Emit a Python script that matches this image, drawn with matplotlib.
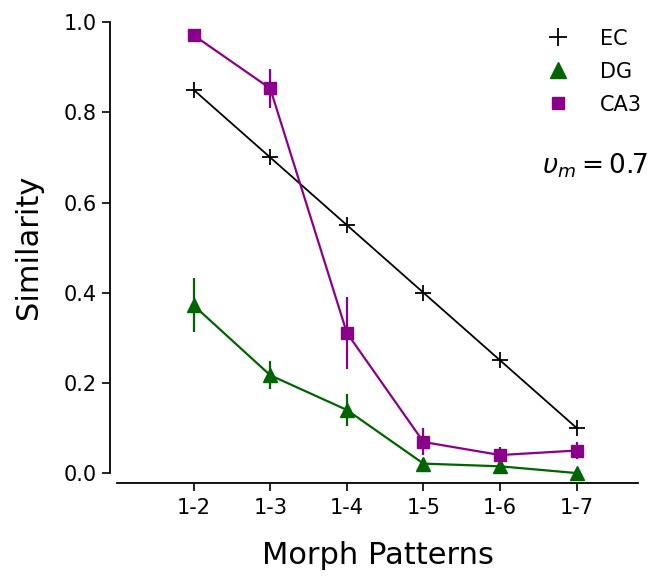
import numpy as np
import matplotlib
matplotlib.use("Agg")
from matplotlib import pyplot as plt

patterns = ["1-2", "1-3", "1-4", "1-5", "1-6", "1-7"]
ec_sim = [0.85, 0.70, 0.55, 0.40, 0.25, 0.10]
dg_sim = [0.372, 0.217, 0.140, 0.021, 0.015, 0.0]
dg_err = [0.060, 0.031, 0.035, 0.012, 0.008, 0.005]
ca3_sim = [0.971, 0.853, 0.311, 0.069, 0.040, 0.050]
ca3_err = [0.005, 0.043, 0.080, 0.030, 0.018, 0.018]
y_ticks = [0.0, 0.2, 0.4, 0.6, 0.8, 1.0]

fig = plt.figure(figsize=(6.53, 5.78), dpi=100)
ax = fig.add_axes([117 / 653, 1 - 483 / 578, (638 - 117) / 653, (483 - 10) / 578])

# spines first: set_position resets the tick setup
for side in ["top", "right"]:
    ax.spines[side].set_visible(False)
ax.spines["left"].set_position(("outward", 5))
ax.spines["left"].set_bounds(0.0, 1.0)
ax.spines["left"].set_linewidth(1.3)
ax.spines["bottom"].set_linewidth(1.3)

x = np.arange(len(patterns))
ax.plot(x, ec_sim, color="black", marker="+", markersize=12, markeredgewidth=1.3,
        linewidth=1.3, label="EC")
ax.errorbar(x, dg_sim, yerr=dg_err, color="darkgreen", marker="^", markersize=10,
            linewidth=1.6, elinewidth=1.6, label="DG")
ax.errorbar(x, ca3_sim, yerr=ca3_err, color="darkmagenta", marker="s", markersize=9,
            linewidth=1.6, elinewidth=1.6, label="CA3")

ax.set_xlim(-1, 5.8)
ax.set_ylim(-0.022, 1.027)
ax.set_xticks(x)
ax.set_xticklabels(patterns, fontsize=15)
ax.set_yticks(y_ticks)
ax.set_yticklabels([f"{t:.1f}" for t in y_ticks], fontsize=15)
ax.tick_params(length=6, width=1.2)
ax.tick_params(axis="x", pad=5)

ax.set_xlabel("Morph Patterns", fontsize=22, labelpad=16)
ax.set_ylabel("Similarity", fontsize=22, labelpad=15)

labels = ["EC", "DG", "CA3"]
leg_handles = [
    plt.Line2D([], [], color="black", marker="+", linestyle="", markersize=13, markeredgewidth=1.3),
    plt.Line2D([], [], color="darkgreen", marker="^", linestyle="", markersize=11),
    plt.Line2D([], [], color="darkmagenta", marker="s", linestyle="", markersize=9),
]
ax.legend(leg_handles, labels, frameon=False, fontsize=15, loc="upper right",
          bbox_to_anchor=(1.043, 1.0), handletextpad=1.0, labelspacing=0.62)

ax.text(1.02, 0.67, r"$\upsilon_m = 0.7$", transform=ax.transAxes, fontsize=19,
        ha="right", va="center")

fig.savefig("out.png", dpi=100)
